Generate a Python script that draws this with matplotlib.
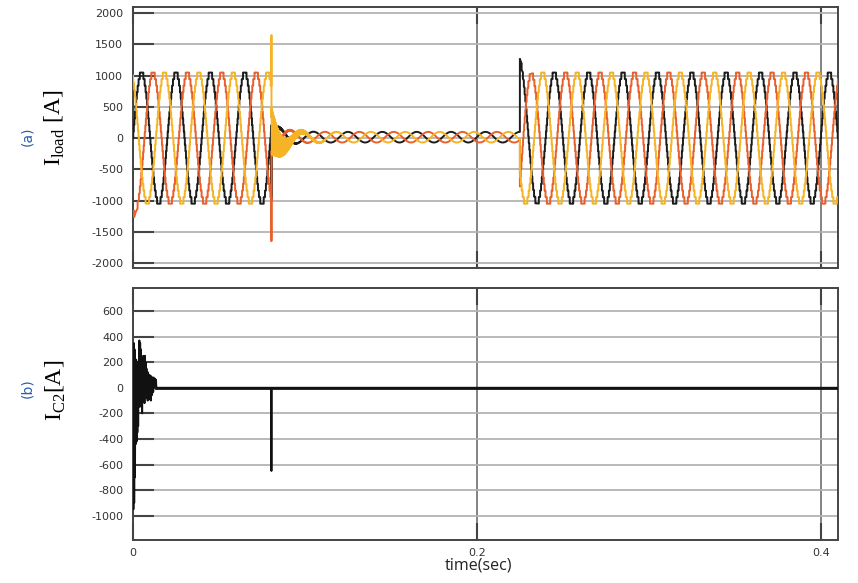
import numpy as np
import matplotlib
matplotlib.use('Agg')
import matplotlib.pyplot as plt

plt.rcParams['axes.unicode_minus'] = False
plt.rcParams['path.simplify'] = False

# ---------------- values ----------------
freq_hz = 50.0
phase_names = ['a', 'b', 'c']
phase_deg = [0.0, -120.0, 120.0]            # black, orange, yellow
phase_colors = ['#1c1c1c', '#e8602c', '#f5b325']
amp_full = 1050.0                            # peak of load current, normal operation
level_step = 105.0                           # multilevel staircase step (A)
amp_low = 85.0                               # peak during the low-current interval
offset_low = 15.0
t_fault = 0.0805                             # s
t_restore = 0.225                            # s
t_end = 0.41                                 # s
fault_spike = [-1000.0, -1650.0, 1650.0]
post_fault_amp = [240.0, 260.0, 220.0]
post_fault_tau = 0.006
ripple_amp = [30.0, 40.0, 380.0]
ripple_center = [0.0, 0.0, -60.0]
ripple_hz = 2500.0
ripple_tau = 0.007
start_offset = [0.0, -300.0, 60.0]
start_tau = 0.002
restore_overshoot = [220.0, -250.0, 0.0]
restore_tau = 0.0025

# capacitor C2 current: start-up burst samples (A), then zero, spike at fault
ic2_burst = [0, -950, 350, -900, 300, -700, 200, -440, 220, -420,
             150, -350, 200, -300, 100, -150, 370, -50, 350, -100,
             300, -150, 200, -200, 150, -50, 250, -80, 100, -120,
             250, 0, 200, -50, 150, -80, 100, -100, 120, -60,
             80, -90, 100, -50, 80, -100, 90, -60, 80, -40,
             70, -30, 80, 0, 60, 10, 70, 20, 60, 0]
ic2_burst_end = 0.0136
ic2_fault_spike = -650.0

y1_ticks = [-2000, -1500, -1000, -500, 0, 500, 1000, 1500, 2000]
y2_ticks = [-1000, -800, -600, -400, -200, 0, 200, 400, 600]
x_ticks = [0, 0.2, 0.4]
x_ticklabels = ['0', '0.2', '0.4']

# ---------------- build signals ----------------
t = np.arange(0.0, t_end, 1e-5)
w = 2 * np.pi * freq_hz
seg1 = t < t_fault
seg2 = (t >= t_fault) & (t < t_restore)
seg3 = t >= t_restore
i_fault = np.searchsorted(t, t_fault)


def staircase(v):
    return np.round(v / level_step) * level_step


load = []
for k in range(3):
    ph = np.deg2rad(phase_deg[k])
    y = np.zeros_like(t)
    y[seg1] = staircase(amp_full * np.sin(w * t[seg1] + ph)) + \
        start_offset[k] * np.exp(-t[seg1] / start_tau)
    dt = t[seg2] - t_fault
    env = amp_low + (post_fault_amp[k] - amp_low) * np.exp(-dt / post_fault_tau)
    decay = np.exp(-dt / ripple_tau)
    y[seg2] = env * np.sin(w * t[seg2] + ph) + offset_low * (1 - np.exp(-dt / post_fault_tau)) + \
        decay * (ripple_center[k] + ripple_amp[k] * np.sin(2 * np.pi * ripple_hz * dt))
    dr = t[seg3] - t_restore
    y[seg3] = staircase(amp_full * np.sin(w * t[seg3] + ph)) + \
        restore_overshoot[k] * np.exp(-dr / restore_tau)
    y[i_fault:i_fault + 4] = fault_spike[k]
    load.append(y)

tb = np.linspace(0, ic2_burst_end, len(ic2_burst))
t_ic2 = np.concatenate([tb, [t_fault - 1e-4, t_fault, t_fault + 1e-4, t_end]])
v_ic2 = np.concatenate([ic2_burst, [0, ic2_fault_spike, 0, 0]])

# ---------------- figure ----------------
fig = plt.figure(figsize=(8.58, 5.83), dpi=100)
ax1 = fig.add_axes([133 / 858, 1 - 268 / 583, 705 / 858, 261 / 583])
ax2 = fig.add_axes([133 / 858, 1 - 540 / 583, 705 / 858, 252 / 583])

for k in range(3):
    ax1.plot(t, load[k], color=phase_colors[k], lw=1.4, zorder=3)
ax2.plot(t_ic2, v_ic2, color='#111111', lw=1.4, zorder=3)
ax2.plot([ic2_burst_end, t_end], [0, 0], color='#111111', lw=2.0, zorder=3)

for ax, yt, yl in [(ax1, y1_ticks, (-2080, 2100)), (ax2, y2_ticks, (-1190, 780))]:
    ax.set_xlim(0, 0.41)
    ax.set_ylim(*yl)
    ax.set_yticks(yt)
    ax.set_yticklabels([str(v) for v in yt])
    ax.set_xticks(x_ticks)
    ax.grid(axis='y', color='#b3b3b3', lw=1.3, zorder=0)
    ax.grid(axis='x', color='#7a7a7a', lw=1.3, zorder=0)
    ax.tick_params(axis='y', direction='in', length=15, width=1.5, color='#444444',
                   labelsize=8, labelcolor='#333333', pad=7, left=True, right=False)
    ax.tick_params(axis='x', direction='in', length=12, width=1.5, color='#444444',
                   labelsize=8, labelcolor='#333333', pad=6, top=True, bottom=True)
    for s in ax.spines.values():
        s.set_color('#444444')
        s.set_linewidth(1.4)
    ax.set_axisbelow(True)

ax1.set_xticklabels([])
ax2.set_xticklabels(x_ticklabels)

serif = ['Liberation Serif', 'DejaVu Serif']
fig.text(27 / 858, 1 - 136 / 583, '(a)', rotation=90, ha='center', va='center',
         color='#2a5db0', fontsize=10)
fig.text(55 / 858, 1 - 128 / 583, r'I$_{\mathregular{load}}$ [A]', rotation=90,
         ha='center', va='center', fontsize=17, family=serif)
fig.text(27 / 858, 1 - 388 / 583, '(b)', rotation=90, ha='center', va='center',
         color='#2a5db0', fontsize=10)
fig.text(56 / 858, 1 - 390 / 583, r'I$_{\mathregular{C2}}$[A]', rotation=90,
         ha='center', va='center', fontsize=17, family=serif)
fig.text(478 / 858, 1 - 566 / 583, 'time(sec)', ha='center', va='center',
         fontsize=11.5, family=['Open Sans', 'DejaVu Sans'], color='#222222')

fig.savefig('out.png', dpi=100)
